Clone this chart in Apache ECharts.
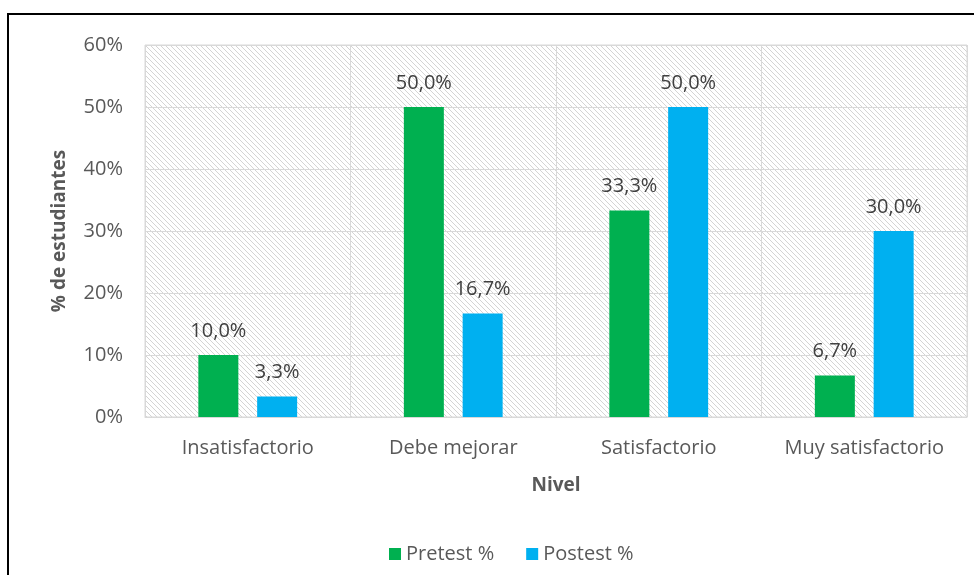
<!doctype html>
<html>
<head>
<meta charset="UTF-8">
<title>Nivel</title>
<script src="https://cdn.jsdelivr.net/npm/echarts@6/dist/echarts.min.js"></script>
<style>
	html, body { margin: 0; padding: 0; background: #fff; }
	#main { width: 974px; height: 575px; }
</style>
</head>
<body>
<div id="main"></div>
<script>
	var categories = ['Insatisfactorio', 'Debe mejorar', 'Satisfactorio', 'Muy satisfactorio'];
	var pretest = [10.0, 50.0, 33.3, 6.7];
	var postest = [3.3, 16.7, 50.0, 30.0];
	var seriesNames = ['Pretest %', 'Postest %'];

	// hatch pattern for the plot area
	var hatch = document.createElement('canvas');
	hatch.width = 5;
	hatch.height = 5;
	var ctx = hatch.getContext('2d');
	ctx.fillStyle = '#ffffff';
	ctx.fillRect(0, 0, 5, 5);
	ctx.strokeStyle = '#d4d4d4';
	ctx.lineWidth = 1;
	ctx.beginPath();
	ctx.moveTo(-1, -1); ctx.lineTo(6, 6);
	ctx.moveTo(-6, -1); ctx.lineTo(1, 6);
	ctx.moveTo(4, -1); ctx.lineTo(11, 6);
	ctx.stroke();

	var font = 'Open Sans';
	var fmt = function (p) { return p.value.toFixed(1).replace('.', ',') + '%'; };

	var chart = echarts.init(document.getElementById('main'));
	chart.setOption({
		animation: false,
		textStyle: { fontFamily: font },
		graphic: [{
			type: 'rect',
			shape: { x: 8, y: 14, width: 980, height: 600 },
			style: { fill: 'none', stroke: '#000', lineWidth: 2 }
		}],
		legend: {
			bottom: 6,
			left: 384,
			itemWidth: 12,
			itemHeight: 12,
			itemGap: 32,
			icon: 'rect',
			textStyle: { color: '#595959', fontSize: 20, fontFamily: font },
			data: seriesNames
		},
		grid: {
			left: 145,
			right: 7,
			top: 45,
			bottom: 158,
			show: true,
			borderColor: '#d9d9d9',
			borderWidth: 1,
			backgroundColor: { image: hatch, repeat: 'repeat' }
		},
		xAxis: {
			type: 'category',
			data: categories,
			name: 'Nivel',
			nameLocation: 'middle',
			nameGap: 59,
			nameTextStyle: { color: '#595959', fontSize: 19, fontWeight: 'bold' },
			axisLine: { lineStyle: { color: '#d9d9d9' } },
			axisTick: { show: false },
			axisLabel: { color: '#595959', fontSize: 20, margin: 21, interval: 0, hideOverlap: false },
			splitLine: { show: true, interval: 0, lineStyle: { color: '#d9d9d9' } }
		},
		yAxis: {
			type: 'value',
			min: 0,
			max: 60,
			interval: 10,
			name: '% de estudiantes',
			nameLocation: 'middle',
			nameGap: 76,
			nameTextStyle: { color: '#595959', fontSize: 19, fontWeight: 'bold' },
			axisLabel: { color: '#595959', fontSize: 20, margin: 22, formatter: '{value}%' },
			axisLine: { show: false },
			axisTick: { show: false },
			splitLine: { lineStyle: { color: '#d9d9d9' } }
		},
		series: [{
			name: seriesNames[0],
			type: 'bar',
			data: pretest,
			barWidth: 40,
			barGap: '47%',
			itemStyle: { color: '#00b050' },
			label: { show: true, position: 'top', distance: 14, color: '#404040', fontSize: 20, formatter: fmt }
		}, {
			name: seriesNames[1],
			type: 'bar',
			data: postest,
			barWidth: 40,
			itemStyle: { color: '#00b0f0' },
			label: { show: true, position: 'top', distance: 14, color: '#404040', fontSize: 20, formatter: fmt }
		}]
	});
</script>
</body>
</html>
